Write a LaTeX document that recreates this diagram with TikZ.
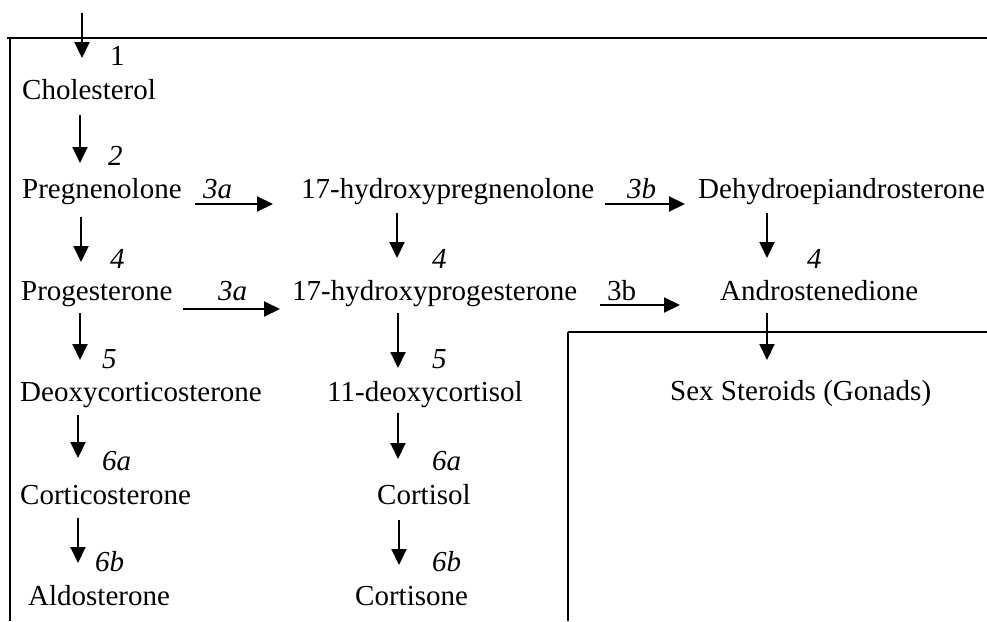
\documentclass[tikz,border=0pt]{standalone}
\usepackage{fontspec}
\setmainfont{Liberation Serif}
\usetikzlibrary{arrows.meta}
\tikzset{
  txt/.style={anchor=base west, inner sep=0pt, font=\fontsize{29pt}{34pt}\selectfont},
  num/.style={txt, font=\fontsize{29pt}{34pt}\selectfont\itshape},
  arr/.style={line width=2pt, -{Triangle[width=15pt,length=16pt]}},
  frame/.style={line width=2pt}
}
\begin{document}
\begin{tikzpicture}[x=1pt,y=-1pt]
\useasboundingbox (0,0) rectangle (987,621);
% frames
\draw[frame] (7,38) -- (987,38);
\draw[frame] (10,38) -- (10,621);
\draw[frame] (568,332) -- (987,332);
\draw[frame] (568,332) -- (568,621);
% main nodes
\node[txt] (chol) at (22,99) {Cholesterol};
\node[txt] (preg) at (22,198) {Pregnenolone};
\node[txt] (hp) at (301,198) {17-hydroxypregnenolone};
\node[txt] (dhea) at (698,198) {Dehydroepiandrosterone};
\node[txt] (prog) at (21,300) {Progesterone};
\node[txt] (ohp) at (292,300) {17-hydroxyprogesterone};
\node[txt] (andro) at (720,300) {Androstenedione};
\node[txt] (doc) at (20,401) {Deoxycorticosterone};
\node[txt] (dcort) at (327,401) {11-deoxycortisol};
\node[txt] (sex) at (670,400) {Sex Steroids (Gonads)};
\node[txt] (cortico) at (20,504) {Corticosterone};
\node[txt] (cortisol) at (377,504) {Cortisol};
\node[txt] (aldo) at (28,605) {Aldosterone};
\node[txt] (cortisone) at (355,605) {Cortisone};
% labels
\node[txt] (l1) at (110,65) {1};
\node[num] (l2) at (108,165) {2};
\node[num] (l3a1) at (203,198) {3a};
\node[num] (l3b1) at (627,198) {3b};
\node[num] (l4a) at (110,268) {4};
\node[num] (l4b) at (432,268) {4};
\node[num] (l4c) at (807,268) {4};
\node[num] (l3a2) at (218,300) {3a};
\node[txt] (l3b2) at (607,300) {3b};
\node[num] (l5a) at (102,368) {5};
\node[num] (l5b) at (432,368) {5};
\node[num] (l6a1) at (102,470) {6a};
\node[num] (l6a2) at (432,470) {6a};
\node[num] (l6b1) at (95,571) {6b};
\node[num] (l6b2) at (432,571) {6b};
% source
\coordinate (src) at (82,13);
% vertical arrows
\draw[arr] (src) -- ([yshift=41pt]chol.base -| 82,0);
\draw[arr] ([yshift=-16pt]chol.base -| 80,0) -- ([yshift=35pt]preg.base -| 80,0);
\draw[arr] ([yshift=-19pt]preg.base -| 81,0) -- ([yshift=38pt]prog.base -| 81,0);
\draw[arr] ([yshift=-15pt]hp.base -| 397,0) -- ([yshift=42pt]ohp.base -| 397,0);
\draw[arr] ([yshift=-15pt]dhea.base -| 767,0) -- ([yshift=42pt]andro.base -| 767,0);
\draw[arr] ([yshift=-13pt]prog.base -| 80,0) -- ([yshift=41pt]doc.base -| 80,0);
\draw[arr] ([yshift=-13pt]ohp.base -| 398,0) -- ([yshift=33pt]dcort.base -| 398,0);
\draw[arr] ([yshift=-13pt]andro.base -| 767,0) -- ([yshift=40pt]sex.base -| 767,0);
\draw[arr] ([yshift=-14pt]doc.base -| 78,0) -- ([yshift=46pt]cortico.base -| 78,0);
\draw[arr] ([yshift=-12pt]dcort.base -| 398,0) -- ([yshift=45pt]cortisol.base -| 398,0);
\draw[arr] ([yshift=-14pt]cortico.base -| 78,0) -- ([yshift=42pt]aldo.base -| 78,0);
\draw[arr] ([yshift=-16pt]cortisol.base -| 399,0) -- ([yshift=40pt]cortisone.base -| 399,0);
% horizontal arrows
\draw[arr] ([shift={(13pt,-6pt)}]preg.base east) -- ([shift={(-28pt,-6pt)}]hp.base west);
\draw[arr] ([shift={(10pt,-6pt)}]hp.base east) -- ([shift={(-13pt,-6pt)}]dhea.base west);
\draw[arr] ([shift={(10pt,-9pt)}]prog.base east) -- ([shift={(-12pt,-9pt)}]ohp.base west);
\draw[arr] ([shift={(23pt,-5pt)}]ohp.base east) -- ([shift={(-40pt,-5pt)}]andro.base west);
\end{tikzpicture}
\end{document}
